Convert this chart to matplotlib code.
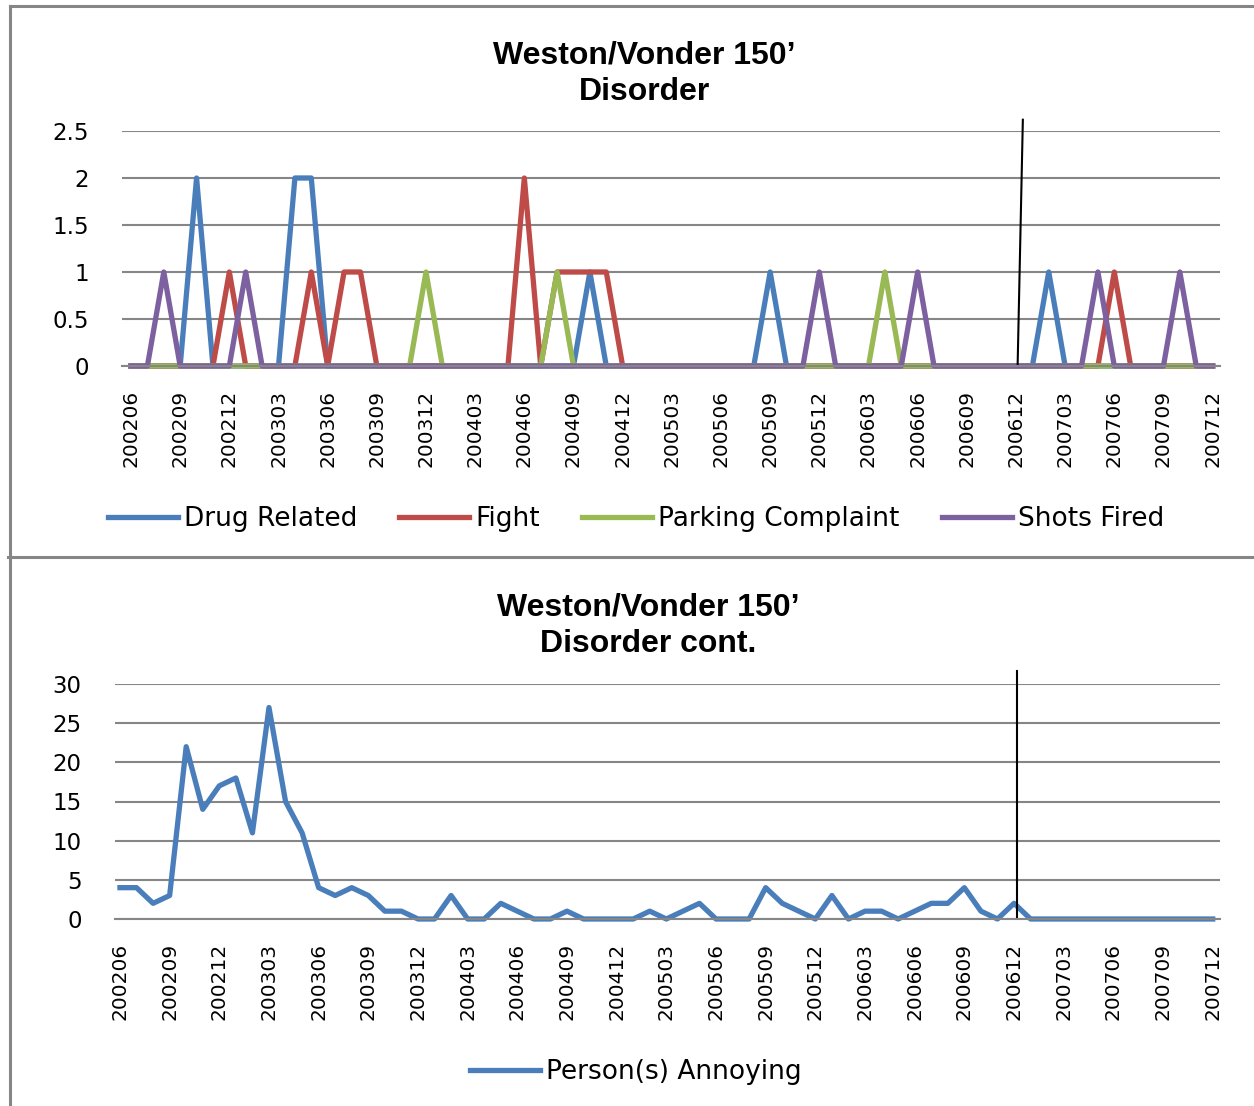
import numpy as np
import matplotlib
matplotlib.use("Agg")
import matplotlib.pyplot as plt
from matplotlib.lines import Line2D

# months 200206 .. 200712
months = []
for y in range(2002, 2008):
    for m in range(1, 13):
        if (y == 2002 and m < 6):
            continue
        months.append(f"{y}{m:02d}")

drug_related = [0, 0, 0, 0, 2, 0, 0, 0, 0, 0, 2, 2, 0, 0, 0, 0, 0, 0, 0, 0,
                0, 0, 0, 0, 0, 0, 0, 0, 1, 0, 0, 0, 0, 0, 0, 0, 0, 0, 0, 1,
                0, 0, 0, 0, 0, 0, 0, 0, 0, 0, 0, 0, 0, 0, 0, 0, 1, 0, 0, 0,
                0, 0, 0, 0, 0, 0, 0]
fight = [0, 0, 0, 0, 0, 0, 1, 0, 0, 0, 0, 1, 0, 1, 1, 0, 0, 0, 0, 0,
         0, 0, 0, 0, 2, 0, 1, 1, 1, 1, 0, 0, 0, 0, 0, 0, 0, 0, 0, 0,
         0, 0, 0, 0, 0, 0, 0, 0, 0, 0, 0, 0, 0, 0, 0, 0, 0, 0, 0, 0,
         1, 0, 0, 0, 0, 0, 0]
parking = [0, 0, 0, 0, 0, 0, 0, 0, 0, 0, 0, 0, 0, 0, 0, 0, 0, 0, 1, 0,
           0, 0, 0, 0, 0, 0, 1, 0, 0, 0, 0, 0, 0, 0, 0, 0, 0, 0, 0, 0,
           0, 0, 0, 0, 0, 0, 1, 0, 0, 0, 0, 0, 0, 0, 0, 0, 0, 0, 0, 0,
           0, 0, 0, 0, 0, 0, 0]
shots_fired = [0, 0, 1, 0, 0, 0, 0, 1, 0, 0, 0, 0, 0, 0, 0, 0, 0, 0, 0, 0,
               0, 0, 0, 0, 0, 0, 0, 0, 0, 0, 0, 0, 0, 0, 0, 0, 0, 0, 0, 0,
               0, 0, 1, 0, 0, 0, 0, 0, 1, 0, 0, 0, 0, 0, 0, 0, 0, 0, 0, 1,
               0, 0, 0, 0, 1, 0, 0]
annoying = [4, 4, 2, 3, 22, 14, 17, 18, 11, 27, 15, 11, 4, 3, 4, 3, 1, 1, 0, 0,
            3, 0, 0, 2, 1, 0, 0, 1, 0, 0, 0, 0, 1, 0, 1, 2, 0, 0, 0, 4,
            2, 1, 0, 3, 0, 1, 1, 0, 1, 2, 2, 4, 1, 0, 2, 0, 0, 0, 0, 0,
            0, 0, 0, 0, 0, 0, 0]

top_series = [("Drug Related", drug_related, "#4A7EBB"),
              ("Fight", fight, "#BE4B48"),
              ("Parking Complaint", parking, "#98B954"),
              ("Shots Fired", shots_fired, "#7D60A0")]

grid_c = "#868686"
W, H = 1254, 1106
fig = plt.figure(figsize=(W / 100, H / 100), dpi=100)

def px_ax(l, t, r, b):
    return fig.add_axes([l / W, 1 - b / H, (r - l) / W, (b - t) / H])

def style(ax, yticks):
    ax.set_yticks(yticks)
    ax.set_xticks(np.arange(0, len(months), 3))
    ax.set_xticklabels(months[::3], rotation=90, fontsize=14.5)
    ax.tick_params(axis="x", length=0, pad=17)
    ax.tick_params(axis="y", length=0, pad=24, labelsize=16.5)
    for s in ["top", "right", "left"]:
        ax.spines[s].set_visible(False)
    ax.spines["bottom"].set_color(grid_c)
    ax.spines["bottom"].set_linewidth(1.5)
    ax.yaxis.grid(True, color=grid_c, linewidth=1.5)
    ax.set_axisbelow(True)

x = np.arange(len(months))
lw = 3.8

# top chart
ax1 = px_ax(122, 131, 1220, 366)
for name, vals, c in top_series:
    ax1.plot(x, vals, color=c, linewidth=lw, label=name, clip_on=False)
ax1.set_xlim(-0.55, 66.45)
ax1.set_ylim(0, 2.5)
style(ax1, [0, 0.5, 1, 1.5, 2, 2.5])
ax1.set_yticklabels(["0", "0.5", "1", "1.5", "2", "2.5"])
ax1.plot([54.42, 54.1], [2.62, 0], color="black", linewidth=1.5, clip_on=False)
fig.text(644 / W, 1 - 74 / H, "Weston/Vonder 150\u2019\nDisorder", ha="center", va="center",
         fontsize=23, fontweight="bold", family="Liberation Sans", linespacing=1.3)
h, l = ax1.get_legend_handles_labels()
fig.legend(h, l, loc="center", bbox_to_anchor=(636 / W, 1 - 519 / H), ncol=4, frameon=False,
           fontsize=19, handlelength=2.65, handletextpad=0.23, columnspacing=1.6)

# bottom chart
ax2 = px_ax(115, 684, 1220, 919)
ax2.plot(x, annoying, color="#4A7EBB", linewidth=lw, label="Person(s) Annoying", clip_on=False)
ax2.set_xlim(-0.3, 66.44)
ax2.set_ylim(0, 30)
style(ax2, [0, 5, 10, 15, 20, 25, 30])
ax2.plot([54.2, 54.2], [31.6, 0.3], color="black", linewidth=1.5, clip_on=False)
fig.text(648 / W, 1 - 626 / H, "Weston/Vonder 150\u2019\nDisorder cont.", ha="center", va="center",
         fontsize=23, fontweight="bold", family="Liberation Sans", linespacing=1.3)
ax2.legend(loc="center", bbox_to_anchor=(636 / W, 1 - 1072 / H), bbox_transform=fig.transFigure,
           frameon=False, fontsize=19, handlelength=2.65, handletextpad=0.23)

# frame lines
fig.add_artist(Line2D([10 / W, 1], [1 - 6 / H, 1 - 6 / H], color=grid_c, linewidth=2.2))
fig.add_artist(Line2D([10 / W, 10 / W], [0, 1 - 6 / H], color=grid_c, linewidth=2.2))
fig.add_artist(Line2D([8 / W, 1], [1 - 557 / H, 1 - 557 / H], color=grid_c, linewidth=2.2))

fig.savefig("out.png", dpi=100)
